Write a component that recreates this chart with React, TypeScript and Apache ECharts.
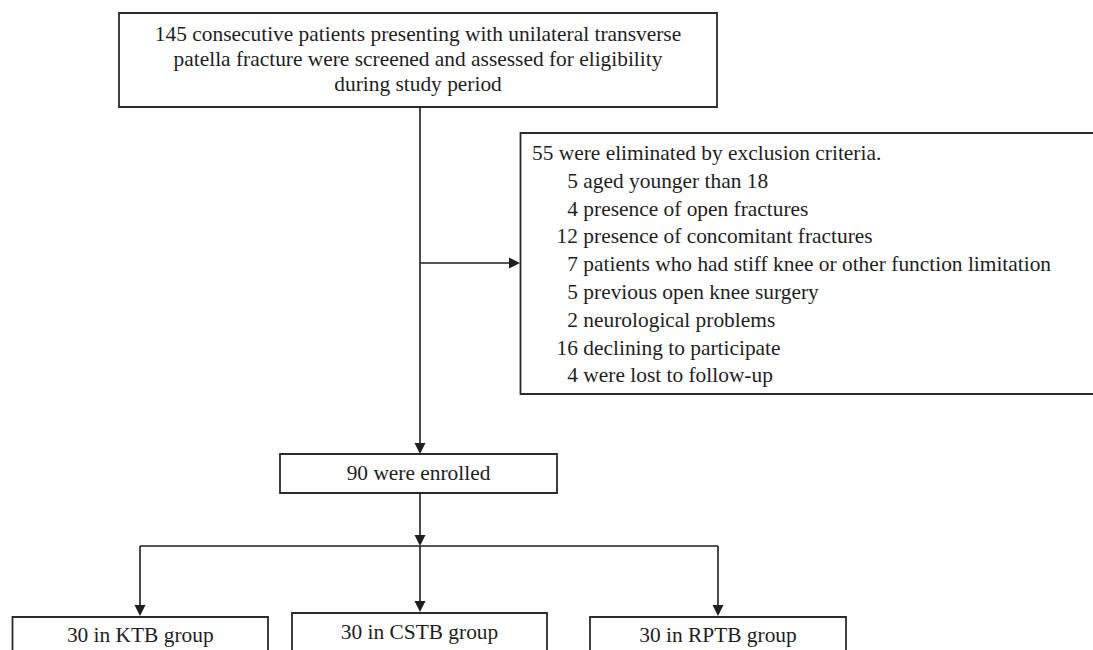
import React, { useEffect, useRef } from "react";
import * as echarts from "echarts";

// ---- data ----
const screenedLines = [
  "145 consecutive patients presenting with unilateral transverse",
  "patella fracture were screened and assessed for eligibility",
  "during study period",
];
const excludedTotal = 55;
const exclusionCounts = [5, 4, 12, 7, 5, 2, 16, 4];
const exclusionReasons = [
  "aged younger than 18",
  "presence of open fractures",
  "presence of concomitant fractures",
  "patients who had stiff knee or other function limitation",
  "previous open knee surgery",
  "neurological problems",
  "declining to participate",
  "were lost to follow-up",
];
const enrolledCount = 90;
const groupNames = ["KTB", "CSTB", "RPTB"];
const groupCounts = [30, 30, 30];

const FONT_FAMILY = '"Liberation Serif", "Times New Roman", serif';
const FS = 21.4;
const INK = "#1e1e1e";
const BORDER = "#2b2b2b";

function arrowHead(x: number, y: number, dir: "down" | "right") {
  const s = 5.5;
  const l = 11;
  const pts =
    dir === "down"
      ? [
          [x - s, y - l],
          [x + s, y - l],
          [x, y],
        ]
      : [
          [x - l, y - s],
          [x - l, y + s],
          [x, y],
        ];
  return { type: "polygon", shape: { points: pts }, style: { fill: INK }, z: 5 };
}

function line(x1: number, y1: number, x2: number, y2: number) {
  return {
    type: "line",
    shape: { x1, y1, x2, y2 },
    style: { stroke: INK, lineWidth: 1.6 },
    z: 4,
  };
}

function box(x: number, y: number, w: number, h: number) {
  return {
    type: "rect",
    shape: { x, y, width: w, height: h },
    style: { fill: "#fff", stroke: BORDER, lineWidth: 1.8 },
    z: 3,
  };
}

function text(t: string, x: number, y: number, align: string) {
  return {
    type: "text",
    x,
    y,
    style: {
      text: t,
      font: `${FS}px ${FONT_FAMILY}`,
      fill: INK,
      align,
      verticalAlign: "middle",
    },
    z: 6,
  };
}

export default function App() {
  const ref = useRef<HTMLDivElement>(null);
  useEffect(() => {
    if (!ref.current) return;
    const chart = echarts.init(ref.current, null, { renderer: "svg" });
    const els: any[] = [];

    // top box
    els.push(box(119, 13, 598, 94));
    screenedLines.forEach((t, i) => els.push(text(t, 418, 34 + i * 25, "center")));

    // main vertical and exclusion arrow
    els.push(line(420, 107, 420, 446));
    els.push(arrowHead(420, 454, "down"));
    els.push(line(420, 263, 512, 263));
    els.push(arrowHead(520, 263, "right"));

    // exclusion box
    els.push(box(520.5, 133, 600, 261));
    els.push(text(`${excludedTotal} were eliminated by exclusion criteria.`, 532, 153, "left"));
    exclusionCounts.forEach((c, i) => {
      const y = 153 + (i + 1) * 27.8;
      els.push(text(String(c), 578, y, "right"));
      els.push(text(" " + exclusionReasons[i], 578, y, "left"));
    });

    // enrolled
    els.push(box(280, 454, 277, 39));
    els.push(text(`${enrolledCount} were enrolled`, 418.5, 473, "center"));
    els.push(line(420, 493, 420, 538));
    els.push(arrowHead(420, 546, "down"));

    // split
    const gx = [140, 420, 718];
    const boxL = [12.5, 292, 590];
    const boxR = [268, 547, 846];
    const boxTop = [617, 613, 617];
    const textY = [635, 632, 635];
    els.push(line(gx[0], 546, gx[2], 546));
    groupNames.forEach((g, i) => {
      els.push(line(gx[i], 546, gx[i], boxTop[i] - 8));
      els.push(arrowHead(gx[i], boxTop[i] - 1, "down"));
      els.push(box(boxL[i], boxTop[i], boxR[i] - boxL[i], 60));
      els.push(text(`${groupCounts[i]} in ${g} group`, (boxL[i] + boxR[i]) / 2, textY[i], "center"));
    });

    chart.setOption({
      animation: false,
      backgroundColor: "#ffffff",
      graphic: { elements: els },
    });
    return () => chart.dispose();
  }, []);
  return (
    <div
      ref={ref}
      style={{ position: "fixed", left: 0, top: 0, width: 1093, height: 650, background: "#fff" }}
    />
  );
}
